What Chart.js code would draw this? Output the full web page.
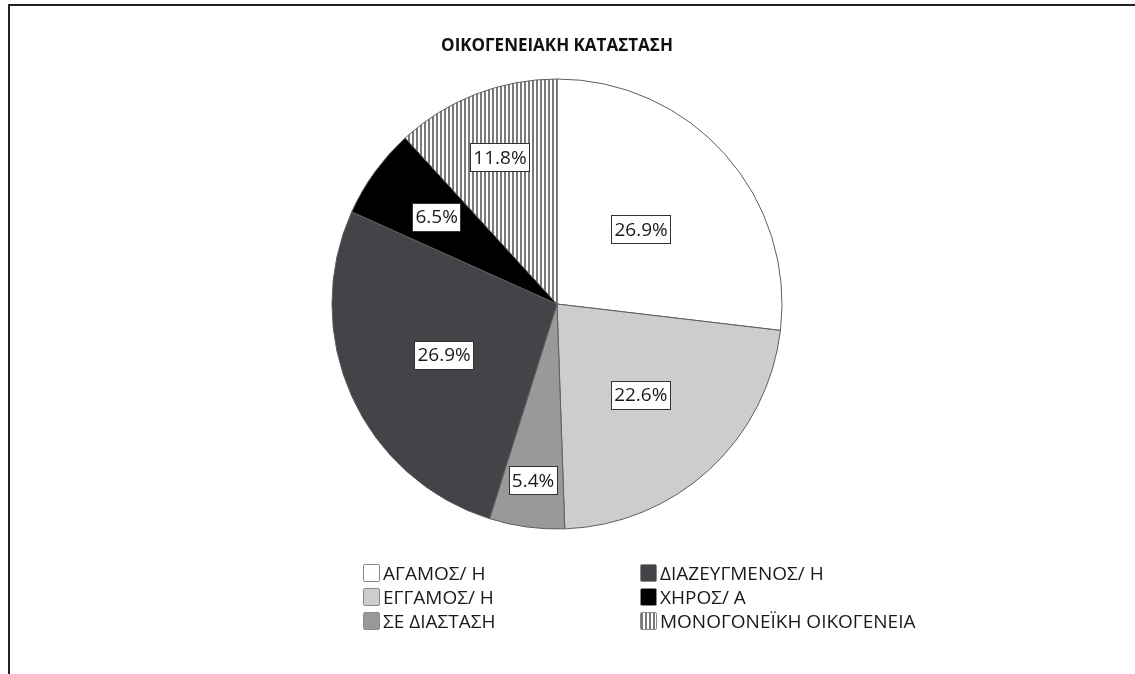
<!DOCTYPE html>
<html>
<head>
<meta charset="utf-8">
<script src="https://cdn.jsdelivr.net/npm/chart.js@4"></script>
<style>
    body { margin: 0; background: #fff; font-family: "Open Sans", sans-serif; }
    #wrap { position: relative; width: 1135px; height: 674px; overflow: hidden; }
    #frame { position: absolute; left: 8px; top: 4px; width: 1200px; height: 700px;
             border-left: 2px solid #222; border-top: 2px solid #222; }
    #myChart { position: absolute; left: 0; top: 0; }
    #title { position: absolute; left: 0; width: 1114px; top: 33px; text-align: center;
             font-weight: bold; font-size: 17px; color: #111; }
    .legend-item { position: absolute; height: 22px; display: flex; align-items: center;
                   font-size: 19px; color: #1a1a1a; white-space: nowrap; }
    .swatch { width: 17px; height: 18px; border: 1px solid #8a8a8a; border-radius: 2px;
              margin-right: 3px; box-sizing: border-box; }
</style>
</head>
<body>
<div id="wrap">
    <div id="frame"></div>
    <canvas id="myChart" width="1135" height="674"></canvas>
    <div id="title"></div>
    <div id="legend"></div>
</div>
<script>
const chartTitle = 'ΟΙΚΟΓΕΝΕΙΑΚΗ ΚΑΤΑΣΤΑΣΗ';
const categories = ['ΑΓΑΜΟΣ/ Η', 'ΕΓΓΑΜΟΣ/ Η', 'ΣΕ ΔΙΑΣΤΑΣΗ', 'ΔΙΑΖΕΥΓΜΕΝΟΣ/ Η', 'ΧΗΡΟΣ/ Α', 'ΜΟΝΟΓΟΝΕΪΚΗ ΟΙΚΟΓΕΝΕΙΑ'];
const percentages = [26.9, 22.6, 5.4, 26.9, 6.5, 11.8];

// where each label box sits, as a fraction of the radius
const labelRadius = [0.5, 0.55, 0.79, 0.55, 0.66, 0.70];

function stripePattern() {
    const c = document.createElement('canvas');
    c.width = 4;
    c.height = 4;
    const g = c.getContext('2d');
    g.fillStyle = '#ffffff';
    g.fillRect(0, 0, 4, 4);
    g.fillStyle = '#7a7a7a';
    g.fillRect(0, 0, 2, 4);
    return g.createPattern(c, 'repeat');
}

const fills = ['#ffffff', '#cdcdcd', '#999999', '#434447', '#000000', stripePattern()];
const swatchCss = ['#ffffff', '#cdcdcd', '#999999', '#434447', '#000000',
    'repeating-linear-gradient(90deg, #7a7a7a 0 2px, #fff 2px 4px)'];

const boxLabels = {
    id: 'boxLabels',
    afterDatasetsDraw(chart) {
        const ctx = chart.ctx;
        const meta = chart.getDatasetMeta(0);
        ctx.save();
        ctx.font = '19px "Open Sans"';
        ctx.textAlign = 'center';
        ctx.textBaseline = 'middle';
        meta.data.forEach((arc, i) => {
            const p = arc.getProps(['x', 'y', 'startAngle', 'endAngle', 'outerRadius']);
            const mid = (p.startAngle + p.endAngle) / 2;
            const r = p.outerRadius * labelRadius[i];
            const x = p.x + Math.cos(mid) * r;
            const y = p.y + Math.sin(mid) * r;
            const text = percentages[i].toFixed(1) + '%';
            const w = ctx.measureText(text).width + 6;
            const h = 28;
            ctx.fillStyle = '#ffffff';
            ctx.fillRect(Math.round(x - w / 2), Math.round(y - h / 2), Math.round(w), h);
            ctx.strokeStyle = '#333333';
            ctx.lineWidth = 1;
            ctx.strokeRect(Math.round(x - w / 2) + 0.5, Math.round(y - h / 2) + 0.5, Math.round(w), h);
            ctx.fillStyle = '#1a1a1a';
            ctx.fillText(text, x, y + 1);
        });
        ctx.restore();
    }
};

document.getElementById('title').textContent = chartTitle;

const ctx = document.getElementById('myChart').getContext('2d');
const chart = new Chart(ctx, {
    type: 'pie',
    data: {
        labels: categories,
        datasets: [{
            data: percentages,
            backgroundColor: fills,
            borderColor: '#5e5e5e',
            borderWidth: 1
        }]
    },
    options: {
        responsive: false,
        animation: false,
        radius: 225,
        layout: { padding: { left: 0, right: 21, top: 0, bottom: 66 } },
        plugins: {
            legend: { display: false },
            tooltip: { enabled: false }
        }
    },
    plugins: [boxLabels]
});

// two column legend, filled column by column
const legend = document.getElementById('legend');
const colX = [363, 640];
const rowY = [562, 586, 610];
categories.forEach((name, i) => {
    const item = document.createElement('div');
    item.className = 'legend-item';
    item.style.left = colX[Math.floor(i / 3)] + 'px';
    item.style.top = rowY[i % 3] + 'px';
    const sw = document.createElement('div');
    sw.className = 'swatch';
    sw.style.background = swatchCss[i];
    const label = document.createElement('span');
    label.textContent = name;
    item.appendChild(sw);
    item.appendChild(label);
    legend.appendChild(item);
});
</script>
</body>
</html>
